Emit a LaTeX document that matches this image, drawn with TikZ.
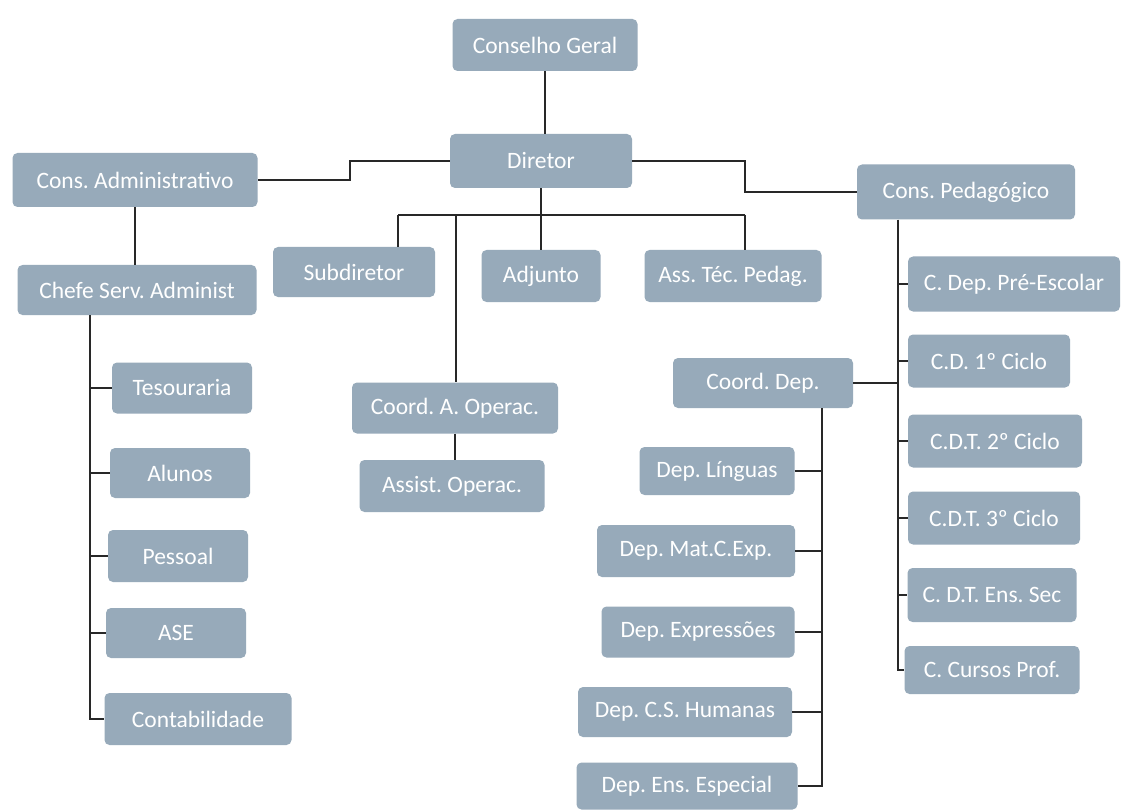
\documentclass[tikz,border=0pt]{standalone}
\usepackage{fontspec}
\setmainfont{Carlito}
\frenchspacing
\definecolor{boxc}{RGB}{151,170,186}
\definecolor{linec}{RGB}{40,40,40}
\begin{document}
\begin{tikzpicture}[x=1pt,y=-1pt,
  box/.style={rounded corners=5pt, fill=boxc, text=white, inner sep=0pt,
    font=\fontsize{23.5}{27}\selectfont},
  conn/.style={draw=linec, line width=1.6pt}]
\useasboundingbox[fill=white] (0,0) rectangle (1121,810);
% top
\node[box, minimum width=185pt, minimum height=52pt] (cg) at (545,45) {Conselho Geral};
\node[box, minimum width=182pt, minimum height=54pt] (dir) at (541,161) {Diretor};
\node[box, minimum width=245pt, minimum height=54pt] (ca) at (135,180) {Cons. Administrativo};
\node[box, minimum width=239pt, minimum height=50pt] (csa) at (137,290) {Chefe Serv. Administ};
\node[box, minimum width=218pt, minimum height=55pt] (cp) at (966,192) {Cons. Pedagógico};
% middle row
\node[box, minimum width=162pt, minimum height=50pt] (sub) at (354,272) {Subdiretor};
\node[box, minimum width=119pt, minimum height=52pt] (adj) at (541,276) {Adjunto};
\node[box, minimum width=177pt, minimum height=52pt] (atp) at (733,276) {Ass. Téc. Pedag.};
\node[box, minimum width=206pt, minimum height=51pt] (cao) at (455,408) {Coord. A. Operac.};
\node[box, minimum width=185pt, minimum height=52pt] (ao) at (452,486) {Assist. Operac.};
% left column
\node[box, minimum width=140pt, minimum height=51pt] (tes) at (182,388) {Tesouraria};
\node[box, minimum width=140pt, minimum height=50pt] (alu) at (180,473) {Alunos};
\node[box, minimum width=140pt, minimum height=52pt] (pes) at (178,556) {Pessoal};
\node[box, minimum width=140pt, minimum height=50pt] (ase) at (176,633) {ASE};
\node[box, minimum width=187pt, minimum height=52pt] (con) at (198,719) {Contabilidade};
% right column
\node[box, minimum width=212pt, minimum height=55pt] (cdpe) at (1014,284) {C. Dep. Pré-Escolar};
\node[box, minimum width=162pt, minimum height=53pt] (cd1) at (989,361) {C.D. 1º Ciclo};
\node[box, minimum width=174pt, minimum height=53pt] (cdt2) at (995,441) {C.D.T. 2º Ciclo};
\node[box, minimum width=172pt, minimum height=53pt] (cdt3) at (994,518) {C.D.T. 3º Ciclo};
\node[box, minimum width=169pt, minimum height=54pt] (cdts) at (992,595) {C. D.T. Ens. Sec};
\node[box, minimum width=175pt, minimum height=48pt] (ccp) at (992,670) {C. Cursos Prof.};
% departments
\node[box, minimum width=180pt, minimum height=50pt] (cdep) at (763,383) {Coord. Dep.};
\node[box, minimum width=155pt, minimum height=48pt] (dl) at (717,471) {Dep. Línguas};
\node[box, minimum width=198pt, minimum height=52pt] (dm) at (696,551) {Dep. Mat.C.Exp.};
\node[box, minimum width=193pt, minimum height=51pt] (de) at (698,632) {Dep. Expressões};
\node[box, minimum width=214pt, minimum height=50pt] (dh) at (685,712) {Dep. C.S. Humanas};
\node[box, minimum width=221pt, minimum height=47pt] (dee) at (687,786) {Dep. Ens. Especial};
% junction coordinates
\coordinate (j1) at (350,172);
\coordinate (j2) at (745,176);
\coordinate (bl) at (398,215);
\coordinate (br) at (745,215);
\coordinate (bm) at (456,215);
\coordinate (t1) at (90,0);
\coordinate (t2) at (898,0);
\coordinate (t3) at (822,0);
% connectors
\draw[conn] (cg.south) -- (cg.south |- dir.north);
\draw[conn] (dir.west) -| (j1) |- (ca.east);
\draw[conn] (dir.east) -| (j2) |- (cp.west);
\draw[conn] (dir.south) -- (adj.north);
\draw[conn] (bl) -- (br);
\draw[conn] (bl) -- (bl |- sub.north);
\draw[conn] (br) -- (br |- atp.north);
\draw[conn] (bm) -- (bm |- cao.north);
\draw[conn] (cao.south) -- (cao.south |- ao.north);
\draw[conn] (ca.south) -- (ca.south |- csa.north);
% left trunk
\draw[conn] (t1 |- csa.south) |- (con.west);
\foreach \n in {tes,alu,pes,ase} \draw[conn] (t1 |- \n.west) -- (\n.west);
% right trunk
\draw[conn] (t2 |- cp.south) |- (ccp.west);
\foreach \n in {cdpe,cd1,cdt2,cdt3,cdts} \draw[conn] (t2 |- \n.west) -- (\n.west);
\draw[conn] (cdep.east) -- (t2 |- cdep.east);
% department trunk
\draw[conn] (t3 |- cdep.south) |- (dee.east);
\foreach \n in {dl,dm,de,dh} \draw[conn] (\n.east) -- (t3 |- \n.east);
\end{tikzpicture}
\end{document}
